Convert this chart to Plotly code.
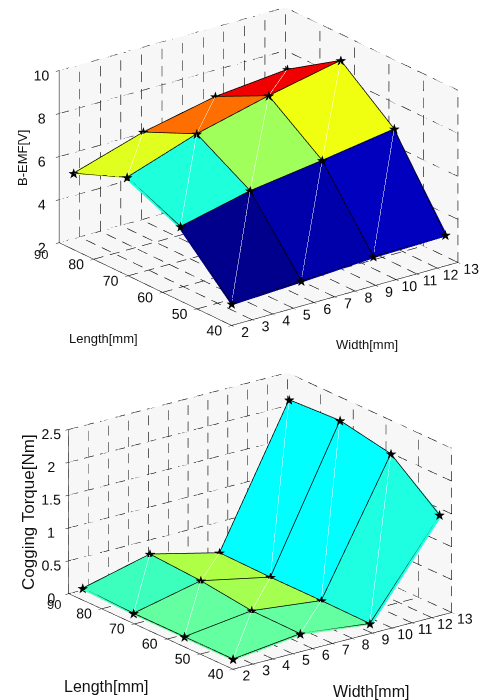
import math
import plotly.graph_objects as go

width_mm = [2, 5.5, 9, 12.5]
length_mm = [40, 55.5, 71, 86.5]
# rows: length index, cols: width index
bemf = [
    [2.93, 3.09, 3.29, 3.36],
    [5.38, 6.14, 6.62, 7.15],
    [6.47, 7.59, 8.43, 9.14],
    [5.47, 6.48, 7.20, 7.53],
]
cogging = [
    [0.13, 0.25, 0.13, 1.51],
    [0.13, 0.26, 0.14, 2.10],
    [0.13, 0.36, 0.14, 2.25],
    [0.155, 0.41, 0.155, 2.21],
]
bemf_colors = [
    ["#00008c", "#0000aa", "#0000be"],
    ["#1effdc", "#a0ff5a", "#f0ff0f"],
    ["#e1ff1e", "#ff6e00", "#f00000"],
]
cogging_colors = [
    ["#64ffa0", "#64ffa0", "#1effe1"],
    ["#64ffa0", "#a5ff50", "#00ffff"],
    ["#3cffbe", "#afff46", "#00ffff"],
]
x_ticks = list(range(2, 14))
y_ticks = [40, 50, 60, 70, 80, 90]
y_labels = ["40", "50", "60", "70", "80", ""]
z1_ticks = [2, 4, 6, 8, 10]
z2_ticks = [0, 0.5, 1, 1.5, 2, 2.5]
z2_labels = ["0", "0.5", "1", "1.5", "2", "2.5"]

FONT = "Liberation Sans"
VIEW1 = dict(phi=52.7, el=21.45, a=1.626, c=1.057, dx=15.5, dy=8.5)
VIEW2 = dict(phi=53.1, el=20.2, a=1.563, c=1.0, dx=17.2, dy=4.0)
S = 174.7


def direction(v):
    p, e = math.radians(v["phi"]), math.radians(v["el"])
    return (-math.cos(e)*math.cos(p), -math.cos(e)*math.sin(p), math.sin(e))


def camera(v, d=2):
    p, e = math.radians(v["phi"]), math.radians(v["el"])
    c = dict(x=-v["dx"]/S*math.sin(p), y=v["dx"]/S*math.cos(p), z=-v["dy"]/(S*math.cos(e)))
    u = direction(v)
    return dict(projection=dict(type="orthographic"), center=c, up=dict(x=0, y=0, z=1),
                eye=dict(x=c["x"]+d*u[0], y=c["y"]+d*u[1], z=c["z"]+d*u[2]))


def add_surface(fig, scene, Z, colors, zt, v):
    xs, ys, zs, I, J, K, fc = [], [], [], [], [], [], []
    n = len(length_mm); m = len(width_mm)
    for a in range(n):
        for b in range(m):
            xs.append(width_mm[b]); ys.append(length_mm[a]); zs.append(Z[a][b])
    dx, dy, dz = [], [], []
    for a in range(n-1):
        for b in range(m-1):
            p = a*m+b
            I += [p, p]; J += [p+1, p+m+1]; K += [p+m+1, p+m]
            fc += [colors[a][b], colors[a][b]]
            dx += [xs[p], xs[p+m+1], None]; dy += [ys[p], ys[p+m+1], None]; dz += [zs[p], zs[p+m+1], None]
    fig.add_trace(go.Mesh3d(x=xs, y=ys, z=zs, i=I, j=J, k=K, facecolor=fc, flatshading=True,
                            lighting=dict(ambient=1, diffuse=0, specular=0, roughness=1, fresnel=0),
                            showscale=False, hoverinfo="skip", scene=scene))
    # nudge overlays towards the viewer so the surface does not hide half of them
    u = direction(v)
    delta = 0.03
    ox = delta*u[0]*(x_ticks[-1]-x_ticks[0])/v["a"]
    oy = delta*u[1]*(y_ticks[-1]-y_ticks[0])/v["a"]
    oz = delta*u[2]*(zt[-1]-zt[0])/v["c"]
    nx = lambda q: None if q is None else max(q+ox, x_ticks[0])
    ny = lambda q: None if q is None else max(q+oy, y_ticks[0])
    nz = lambda q: None if q is None else q+oz
    fig.add_trace(go.Scatter3d(x=[nx(q) for q in dx], y=[ny(q) for q in dy], z=[nz(q) for q in dz], mode="lines",
                               line=dict(color="rgba(255,255,255,0.18)", width=1),
                               showlegend=False, hoverinfo="skip", scene=scene))
    lx, ly, lz = [], [], []
    for a in range(n):
        for b in range(m):
            lx.append(nx(width_mm[b])); ly.append(ny(length_mm[a])); lz.append(nz(Z[a][b]))
        lx.append(None); ly.append(None); lz.append(None)
    for b in range(m):
        for a in range(n):
            lx.append(nx(width_mm[b])); ly.append(ny(length_mm[a])); lz.append(nz(Z[a][b]))
        lx.append(None); ly.append(None); lz.append(None)
    fig.add_trace(go.Scatter3d(x=lx, y=ly, z=lz, mode="lines", line=dict(color="black", width=1.5),
                               showlegend=False, hoverinfo="skip", scene=scene))
    fig.add_trace(go.Scatter3d(x=[nx(q) for q in xs], y=[ny(q) for q in ys], z=[nz(q) for q in zs],
                               mode="text", text=["★"]*len(xs), textposition="middle center",
                               textfont=dict(color="black", size=14, family="DejaVu Sans"),
                               showlegend=False, hoverinfo="skip", scene=scene))


def add_grid(fig, scene, zt, zpx):
    x0, x1 = x_ticks[0], x_ticks[-1]
    y0, y1 = y_ticks[0], y_ticks[-1]
    z0, z1 = zt[0], zt[-1]
    lx, ly, lz = [], [], []
    xpx, ypx, period, on = 21.5, 3.8, 17.0, 0.6

    def seg(a, b):
        length = math.hypot((b[0]-a[0])*xpx, (b[1]-a[1])*ypx, (b[2]-a[2])*zpx)
        count = max(1, round(length/period))
        for t in range(count):
            s0 = t/count
            s1 = (t+on)/count
            for s in (s0, s1):
                lx.append(a[0]+(b[0]-a[0])*s)
                ly.append(a[1]+(b[1]-a[1])*s)
                lz.append(a[2]+(b[2]-a[2])*s)
            lx.append(None); ly.append(None); lz.append(None)

    for x in x_ticks:
        seg((x, y1, z0), (x, y1, z1))
        seg((x, y0, z0), (x, y1, z0))
    for y in y_ticks:
        seg((x1, y, z0), (x1, y, z1))
        seg((x0, y, z0), (x1, y, z0))
    for z in zt:
        seg((x0, y1, z), (x1, y1, z))
        seg((x1, y0, z), (x1, y1, z))
    fig.add_trace(go.Scatter3d(x=lx, y=ly, z=lz, mode="lines",
                               line=dict(color="black", width=1.2),
                               showlegend=False, hoverinfo="skip", scene=scene))


fig = go.Figure()
add_grid(fig, "scene", z1_ticks, 21.5)
add_surface(fig, "scene", bemf, bemf_colors, z1_ticks, VIEW1)
add_grid(fig, "scene2", z2_ticks, 66)
add_surface(fig, "scene2", cogging, cogging_colors, z2_ticks, VIEW2)


def axis(tickvals, ticktext=None, ticklen=4):
    d = dict(tickmode="array", tickvals=tickvals, range=[tickvals[0], tickvals[-1]],
             showgrid=False, zeroline=False, showbackground=True, backgroundcolor="#f7f7f7",
             showline=True, linecolor="black", linewidth=1, ticks="outside", ticklen=ticklen,
             tickcolor="black", title=dict(text=""), showspikes=False, tickangle=0,
             tickfont=dict(family=FONT, size=13, color="#111"))
    if ticktext:
        d["ticktext"] = ticktext
    return d


def scene_layout(v, zt, zl, dom):
    return dict(domain=dict(x=[0, 1], y=dom),
                xaxis=axis(x_ticks), yaxis=axis(y_ticks, y_labels), zaxis=axis(zt, zl),
                aspectmode="manual", aspectratio=dict(x=v["a"], y=v["a"], z=v["c"]),
                camera=camera(v))


BLACK = "#111"
fig.update_layout(
    width=486, height=700, margin=dict(l=0, r=0, t=0, b=0), paper_bgcolor="white",
    showlegend=False,
    scene=scene_layout(VIEW1, z1_ticks, None, [0.5, 1]),
    scene2=scene_layout(VIEW2, z2_ticks, z2_labels, [0, 0.5]),
    annotations=[
        dict(text="B-EMF[V]", x=22/486, y=1-158/700, textangle=-90, font=dict(size=13, family=FONT, color=BLACK)),
        dict(text="Length[mm]", x=103/486, y=1-339/700, font=dict(size=13, family=FONT, color=BLACK)),
        dict(text="Width[mm]", x=367/486, y=1-344/700, font=dict(size=13, family=FONT, color=BLACK)),
        dict(text="Cogging Torque[Nm]", x=28/486, y=1-512/700, textangle=-90, font=dict(size=17, family=FONT, color=BLACK)),
        dict(text="Length[mm]", x=106/486, y=1-686/700, font=dict(size=16, family=FONT, color=BLACK)),
        dict(text="Width[mm]", x=371/486, y=1-691/700, font=dict(size=16, family=FONT, color=BLACK)),
        dict(text=str(y_ticks[-1]), x=41/486, y=1-254/700, font=dict(size=13, family=FONT, color=BLACK)),
        dict(text=str(y_ticks[-1]), x=54/486, y=1-604/700, font=dict(size=13, family=FONT, color=BLACK)),
    ],
)
for a in fig.layout.annotations:
    a.update(xref="paper", yref="paper", showarrow=False, xanchor="center", yanchor="middle")

fig.write_html("out.html", post_script="document.body.style.margin='0';",
               config=dict(displayModeBar=False))
